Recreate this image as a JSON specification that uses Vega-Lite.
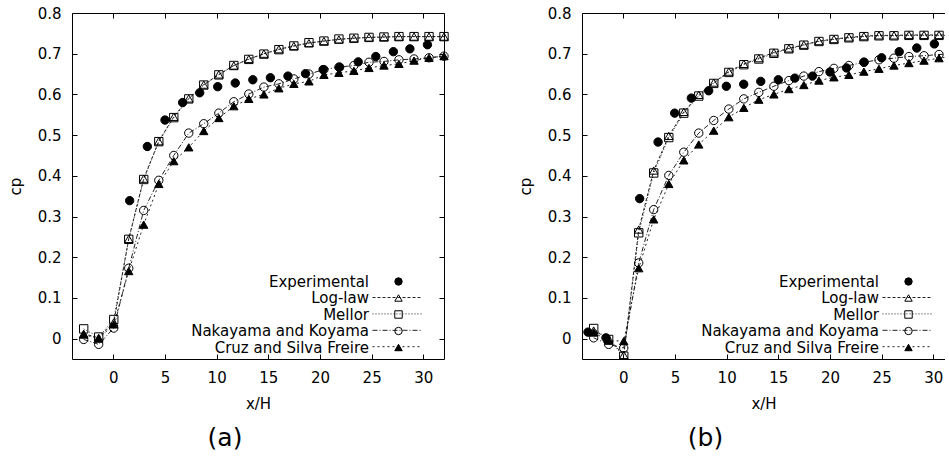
{
  "$schema": "https://vega.github.io/schema/vega-lite/v6.json",
  "background": "white",
  "padding": {"left": 8, "top": 6, "right": 0, "bottom": 0},
  "autosize": {"type": "pad"},
  "config": {
    "font": "DejaVu Sans",
    "view": {"stroke": null},
    "axis": {"labelFont": "DejaVu Sans", "labelFontSize": 15, "labelColor": "black", "titleFont": "DejaVu Sans", "titleFontSize": 15, "titleFontWeight": "normal", "titleColor": "black", "domainColor": "black", "tickColor": "black", "tickSize": -5, "labelPadding": 16, "grid": false, "domainWidth": 1, "tickWidth": 1},
    "legend": {"labelFont": "DejaVu Sans", "labelFontSize": 15, "labelColor": "black", "labelLimit": 0}
  },
  "datasets": {
    "a": [
      {"series": "Experimental", "x": 1.58, "cp": 0.339}, {"series": "Experimental", "x": 3.29, "cp": 0.472}, {"series": "Experimental", "x": 5.0, "cp": 0.537}, {"series": "Experimental", "x": 6.71, "cp": 0.58}, {"series": "Experimental", "x": 8.36, "cp": 0.604}, {"series": "Experimental", "x": 10.1, "cp": 0.619}, {"series": "Experimental", "x": 11.8, "cp": 0.628}, {"series": "Experimental", "x": 13.5, "cp": 0.636}, {"series": "Experimental", "x": 15.2, "cp": 0.641}, {"series": "Experimental", "x": 16.9, "cp": 0.645}, {"series": "Experimental", "x": 18.6, "cp": 0.651}, {"series": "Experimental", "x": 20.3, "cp": 0.661}, {"series": "Experimental", "x": 21.9, "cp": 0.667}, {"series": "Experimental", "x": 23.7, "cp": 0.68}, {"series": "Experimental", "x": 25.4, "cp": 0.693}, {"series": "Experimental", "x": 27.1, "cp": 0.705}, {"series": "Experimental", "x": 28.7, "cp": 0.712}, {"series": "Experimental", "x": 30.4, "cp": 0.722},
      {"series": "Log-law", "x": -2.87, "cp": 0.012}, {"series": "Log-law", "x": -1.42, "cp": 0.002}, {"series": "Log-law", "x": 0.04, "cp": 0.04}, {"series": "Log-law", "x": 1.49, "cp": 0.245}, {"series": "Log-law", "x": 2.94, "cp": 0.393}, {"series": "Log-law", "x": 4.4, "cp": 0.485}, {"series": "Log-law", "x": 5.85, "cp": 0.545}, {"series": "Log-law", "x": 7.3, "cp": 0.59}, {"series": "Log-law", "x": 8.75, "cp": 0.624}, {"series": "Log-law", "x": 10.21, "cp": 0.649}, {"series": "Log-law", "x": 11.66, "cp": 0.671}, {"series": "Log-law", "x": 13.11, "cp": 0.687}, {"series": "Log-law", "x": 14.57, "cp": 0.7}, {"series": "Log-law", "x": 16.02, "cp": 0.711}, {"series": "Log-law", "x": 17.47, "cp": 0.719}, {"series": "Log-law", "x": 18.93, "cp": 0.726}, {"series": "Log-law", "x": 20.38, "cp": 0.731}, {"series": "Log-law", "x": 21.83, "cp": 0.735}, {"series": "Log-law", "x": 23.28, "cp": 0.738}, {"series": "Log-law", "x": 24.74, "cp": 0.74}, {"series": "Log-law", "x": 26.19, "cp": 0.741}, {"series": "Log-law", "x": 27.64, "cp": 0.742}, {"series": "Log-law", "x": 29.1, "cp": 0.742}, {"series": "Log-law", "x": 30.55, "cp": 0.742}, {"series": "Log-law", "x": 32.0, "cp": 0.742},
      {"series": "Mellor", "x": -2.87, "cp": 0.024}, {"series": "Mellor", "x": -1.42, "cp": 0.004}, {"series": "Mellor", "x": 0.04, "cp": 0.047}, {"series": "Mellor", "x": 1.49, "cp": 0.244}, {"series": "Mellor", "x": 2.94, "cp": 0.391}, {"series": "Mellor", "x": 4.4, "cp": 0.484}, {"series": "Mellor", "x": 5.85, "cp": 0.543}, {"series": "Mellor", "x": 7.3, "cp": 0.589}, {"series": "Mellor", "x": 8.75, "cp": 0.623}, {"series": "Mellor", "x": 10.21, "cp": 0.648}, {"series": "Mellor", "x": 11.66, "cp": 0.671}, {"series": "Mellor", "x": 13.11, "cp": 0.686}, {"series": "Mellor", "x": 14.57, "cp": 0.699}, {"series": "Mellor", "x": 16.02, "cp": 0.71}, {"series": "Mellor", "x": 17.47, "cp": 0.719}, {"series": "Mellor", "x": 18.93, "cp": 0.727}, {"series": "Mellor", "x": 20.38, "cp": 0.731}, {"series": "Mellor", "x": 21.83, "cp": 0.736}, {"series": "Mellor", "x": 23.28, "cp": 0.738}, {"series": "Mellor", "x": 24.74, "cp": 0.74}, {"series": "Mellor", "x": 26.19, "cp": 0.741}, {"series": "Mellor", "x": 27.64, "cp": 0.742}, {"series": "Mellor", "x": 29.1, "cp": 0.742}, {"series": "Mellor", "x": 30.55, "cp": 0.742}, {"series": "Mellor", "x": 32.0, "cp": 0.742},
      {"series": "Nakayama and Koyama", "x": -2.87, "cp": -0.002}, {"series": "Nakayama and Koyama", "x": -1.42, "cp": -0.014}, {"series": "Nakayama and Koyama", "x": 0.04, "cp": 0.026}, {"series": "Nakayama and Koyama", "x": 1.49, "cp": 0.173}, {"series": "Nakayama and Koyama", "x": 2.94, "cp": 0.315}, {"series": "Nakayama and Koyama", "x": 4.4, "cp": 0.389}, {"series": "Nakayama and Koyama", "x": 5.85, "cp": 0.45}, {"series": "Nakayama and Koyama", "x": 7.3, "cp": 0.505}, {"series": "Nakayama and Koyama", "x": 8.75, "cp": 0.528}, {"series": "Nakayama and Koyama", "x": 10.21, "cp": 0.554}, {"series": "Nakayama and Koyama", "x": 11.66, "cp": 0.582}, {"series": "Nakayama and Koyama", "x": 13.11, "cp": 0.601}, {"series": "Nakayama and Koyama", "x": 14.57, "cp": 0.618}, {"series": "Nakayama and Koyama", "x": 16.02, "cp": 0.626}, {"series": "Nakayama and Koyama", "x": 17.47, "cp": 0.638}, {"series": "Nakayama and Koyama", "x": 18.93, "cp": 0.65}, {"series": "Nakayama and Koyama", "x": 20.38, "cp": 0.661}, {"series": "Nakayama and Koyama", "x": 21.83, "cp": 0.667}, {"series": "Nakayama and Koyama", "x": 23.28, "cp": 0.671}, {"series": "Nakayama and Koyama", "x": 24.74, "cp": 0.679}, {"series": "Nakayama and Koyama", "x": 26.19, "cp": 0.681}, {"series": "Nakayama and Koyama", "x": 27.64, "cp": 0.685}, {"series": "Nakayama and Koyama", "x": 29.1, "cp": 0.687}, {"series": "Nakayama and Koyama", "x": 30.55, "cp": 0.69}, {"series": "Nakayama and Koyama", "x": 32.0, "cp": 0.694},
      {"series": "Cruz and Silva Freire", "x": -2.87, "cp": 0.01}, {"series": "Cruz and Silva Freire", "x": -1.42, "cp": 0.0}, {"series": "Cruz and Silva Freire", "x": 0.04, "cp": 0.035}, {"series": "Cruz and Silva Freire", "x": 1.49, "cp": 0.166}, {"series": "Cruz and Silva Freire", "x": 2.94, "cp": 0.28}, {"series": "Cruz and Silva Freire", "x": 4.4, "cp": 0.38}, {"series": "Cruz and Silva Freire", "x": 5.85, "cp": 0.436}, {"series": "Cruz and Silva Freire", "x": 7.3, "cp": 0.47}, {"series": "Cruz and Silva Freire", "x": 8.75, "cp": 0.51}, {"series": "Cruz and Silva Freire", "x": 10.21, "cp": 0.542}, {"series": "Cruz and Silva Freire", "x": 11.66, "cp": 0.571}, {"series": "Cruz and Silva Freire", "x": 13.11, "cp": 0.589}, {"series": "Cruz and Silva Freire", "x": 14.57, "cp": 0.6}, {"series": "Cruz and Silva Freire", "x": 16.02, "cp": 0.615}, {"series": "Cruz and Silva Freire", "x": 17.47, "cp": 0.626}, {"series": "Cruz and Silva Freire", "x": 18.93, "cp": 0.632}, {"series": "Cruz and Silva Freire", "x": 20.38, "cp": 0.648}, {"series": "Cruz and Silva Freire", "x": 21.83, "cp": 0.653}, {"series": "Cruz and Silva Freire", "x": 23.28, "cp": 0.658}, {"series": "Cruz and Silva Freire", "x": 24.74, "cp": 0.665}, {"series": "Cruz and Silva Freire", "x": 26.19, "cp": 0.671}, {"series": "Cruz and Silva Freire", "x": 27.64, "cp": 0.675}, {"series": "Cruz and Silva Freire", "x": 29.1, "cp": 0.683}, {"series": "Cruz and Silva Freire", "x": 30.55, "cp": 0.69}, {"series": "Cruz and Silva Freire", "x": 32.0, "cp": 0.694}
    ],
    "b": [
      {"series": "Experimental", "x": -3.42, "cp": 0.016}, {"series": "Experimental", "x": -1.68, "cp": 0.002}, {"series": "Experimental", "x": 1.58, "cp": 0.344}, {"series": "Experimental", "x": 3.36, "cp": 0.483}, {"series": "Experimental", "x": 4.97, "cp": 0.554}, {"series": "Experimental", "x": 6.58, "cp": 0.591}, {"series": "Experimental", "x": 8.26, "cp": 0.609}, {"series": "Experimental", "x": 9.97, "cp": 0.62}, {"series": "Experimental", "x": 11.65, "cp": 0.625}, {"series": "Experimental", "x": 13.3, "cp": 0.632}, {"series": "Experimental", "x": 15.0, "cp": 0.636}, {"series": "Experimental", "x": 16.6, "cp": 0.64}, {"series": "Experimental", "x": 18.3, "cp": 0.645}, {"series": "Experimental", "x": 20.0, "cp": 0.655}, {"series": "Experimental", "x": 21.6, "cp": 0.665}, {"series": "Experimental", "x": 23.3, "cp": 0.679}, {"series": "Experimental", "x": 25.0, "cp": 0.69}, {"series": "Experimental", "x": 26.7, "cp": 0.705}, {"series": "Experimental", "x": 28.4, "cp": 0.714}, {"series": "Experimental", "x": 30.1, "cp": 0.724},
      {"series": "Log-law", "x": -2.87, "cp": 0.02}, {"series": "Log-law", "x": -1.42, "cp": 0.0}, {"series": "Log-law", "x": 0.04, "cp": -0.04}, {"series": "Log-law", "x": 1.49, "cp": 0.268}, {"series": "Log-law", "x": 2.94, "cp": 0.413}, {"series": "Log-law", "x": 4.4, "cp": 0.498}, {"series": "Log-law", "x": 5.85, "cp": 0.557}, {"series": "Log-law", "x": 7.3, "cp": 0.599}, {"series": "Log-law", "x": 8.75, "cp": 0.629}, {"series": "Log-law", "x": 10.21, "cp": 0.656}, {"series": "Log-law", "x": 11.66, "cp": 0.675}, {"series": "Log-law", "x": 13.11, "cp": 0.689}, {"series": "Log-law", "x": 14.57, "cp": 0.703}, {"series": "Log-law", "x": 16.02, "cp": 0.713}, {"series": "Log-law", "x": 17.47, "cp": 0.722}, {"series": "Log-law", "x": 18.93, "cp": 0.731}, {"series": "Log-law", "x": 20.38, "cp": 0.736}, {"series": "Log-law", "x": 21.83, "cp": 0.74}, {"series": "Log-law", "x": 23.28, "cp": 0.743}, {"series": "Log-law", "x": 24.74, "cp": 0.745}, {"series": "Log-law", "x": 26.19, "cp": 0.745}, {"series": "Log-law", "x": 27.64, "cp": 0.746}, {"series": "Log-law", "x": 29.1, "cp": 0.746}, {"series": "Log-law", "x": 30.55, "cp": 0.746}, {"series": "Log-law", "x": 32.0, "cp": 0.746},
      {"series": "Mellor", "x": -2.87, "cp": 0.025}, {"series": "Mellor", "x": -1.42, "cp": -0.002}, {"series": "Mellor", "x": 0.04, "cp": -0.043}, {"series": "Mellor", "x": 1.49, "cp": 0.26}, {"series": "Mellor", "x": 2.94, "cp": 0.407}, {"series": "Mellor", "x": 4.4, "cp": 0.494}, {"series": "Mellor", "x": 5.85, "cp": 0.554}, {"series": "Mellor", "x": 7.3, "cp": 0.596}, {"series": "Mellor", "x": 8.75, "cp": 0.627}, {"series": "Mellor", "x": 10.21, "cp": 0.654}, {"series": "Mellor", "x": 11.66, "cp": 0.673}, {"series": "Mellor", "x": 13.11, "cp": 0.687}, {"series": "Mellor", "x": 14.57, "cp": 0.701}, {"series": "Mellor", "x": 16.02, "cp": 0.712}, {"series": "Mellor", "x": 17.47, "cp": 0.721}, {"series": "Mellor", "x": 18.93, "cp": 0.73}, {"series": "Mellor", "x": 20.38, "cp": 0.735}, {"series": "Mellor", "x": 21.83, "cp": 0.739}, {"series": "Mellor", "x": 23.28, "cp": 0.742}, {"series": "Mellor", "x": 24.74, "cp": 0.744}, {"series": "Mellor", "x": 26.19, "cp": 0.744}, {"series": "Mellor", "x": 27.64, "cp": 0.745}, {"series": "Mellor", "x": 29.1, "cp": 0.745}, {"series": "Mellor", "x": 30.55, "cp": 0.745}, {"series": "Mellor", "x": 32.0, "cp": 0.745},
      {"series": "Nakayama and Koyama", "x": -2.87, "cp": 0.002}, {"series": "Nakayama and Koyama", "x": -1.42, "cp": -0.014}, {"series": "Nakayama and Koyama", "x": 0.04, "cp": -0.023}, {"series": "Nakayama and Koyama", "x": 1.49, "cp": 0.186}, {"series": "Nakayama and Koyama", "x": 2.94, "cp": 0.317}, {"series": "Nakayama and Koyama", "x": 4.4, "cp": 0.401}, {"series": "Nakayama and Koyama", "x": 5.85, "cp": 0.458}, {"series": "Nakayama and Koyama", "x": 7.3, "cp": 0.505}, {"series": "Nakayama and Koyama", "x": 8.75, "cp": 0.536}, {"series": "Nakayama and Koyama", "x": 10.21, "cp": 0.564}, {"series": "Nakayama and Koyama", "x": 11.66, "cp": 0.589}, {"series": "Nakayama and Koyama", "x": 13.11, "cp": 0.605}, {"series": "Nakayama and Koyama", "x": 14.57, "cp": 0.62}, {"series": "Nakayama and Koyama", "x": 16.02, "cp": 0.634}, {"series": "Nakayama and Koyama", "x": 17.47, "cp": 0.645}, {"series": "Nakayama and Koyama", "x": 18.93, "cp": 0.656}, {"series": "Nakayama and Koyama", "x": 20.38, "cp": 0.664}, {"series": "Nakayama and Koyama", "x": 21.83, "cp": 0.671}, {"series": "Nakayama and Koyama", "x": 23.28, "cp": 0.679}, {"series": "Nakayama and Koyama", "x": 24.74, "cp": 0.685}, {"series": "Nakayama and Koyama", "x": 26.19, "cp": 0.689}, {"series": "Nakayama and Koyama", "x": 27.64, "cp": 0.693}, {"series": "Nakayama and Koyama", "x": 29.1, "cp": 0.695}, {"series": "Nakayama and Koyama", "x": 30.55, "cp": 0.698}, {"series": "Nakayama and Koyama", "x": 32.0, "cp": 0.7},
      {"series": "Cruz and Silva Freire", "x": -2.87, "cp": 0.015}, {"series": "Cruz and Silva Freire", "x": -1.42, "cp": -0.005}, {"series": "Cruz and Silva Freire", "x": 0.04, "cp": -0.006}, {"series": "Cruz and Silva Freire", "x": 1.49, "cp": 0.173}, {"series": "Cruz and Silva Freire", "x": 2.94, "cp": 0.293}, {"series": "Cruz and Silva Freire", "x": 4.4, "cp": 0.38}, {"series": "Cruz and Silva Freire", "x": 5.85, "cp": 0.438}, {"series": "Cruz and Silva Freire", "x": 7.3, "cp": 0.477}, {"series": "Cruz and Silva Freire", "x": 8.75, "cp": 0.511}, {"series": "Cruz and Silva Freire", "x": 10.21, "cp": 0.544}, {"series": "Cruz and Silva Freire", "x": 11.66, "cp": 0.567}, {"series": "Cruz and Silva Freire", "x": 13.11, "cp": 0.587}, {"series": "Cruz and Silva Freire", "x": 14.57, "cp": 0.6}, {"series": "Cruz and Silva Freire", "x": 16.02, "cp": 0.613}, {"series": "Cruz and Silva Freire", "x": 17.47, "cp": 0.623}, {"series": "Cruz and Silva Freire", "x": 18.93, "cp": 0.634}, {"series": "Cruz and Silva Freire", "x": 20.38, "cp": 0.642}, {"series": "Cruz and Silva Freire", "x": 21.83, "cp": 0.648}, {"series": "Cruz and Silva Freire", "x": 23.28, "cp": 0.656}, {"series": "Cruz and Silva Freire", "x": 24.74, "cp": 0.663}, {"series": "Cruz and Silva Freire", "x": 26.19, "cp": 0.671}, {"series": "Cruz and Silva Freire", "x": 27.64, "cp": 0.677}, {"series": "Cruz and Silva Freire", "x": 29.1, "cp": 0.683}, {"series": "Cruz and Silva Freire", "x": 30.55, "cp": 0.689}, {"series": "Cruz and Silva Freire", "x": 32.0, "cp": 0.694}
    ]
  },
  "spacing": 138,
  "bounds": "flush",
  "resolve": {
    "scale": {"shape": "independent", "fill": "independent", "stroke": "independent", "strokeDash": "independent"},
    "legend": {"shape": "independent", "fill": "independent", "stroke": "independent", "strokeDash": "independent"}
  },
  "hconcat": [
    {
      "width": 372, "height": 346,
      "title": {"text": "(a)", "orient": "bottom", "fontSize": 25, "font": "DejaVu Sans", "fontWeight": "normal", "color": "black", "offset": 15, "dx": -33},
      "data": {"name": "a"},
      "resolve": {"axis": {"x": "independent", "y": "independent"}},
      "layer": [
        {
          "transform": [{"filter": "datum.series !== 'Experimental'"}],
          "mark": {"type": "line", "strokeWidth": 1, "color": "#222"},
          "encoding": {
            "x": {"field": "x", "type": "quantitative", "scale": {"domain": [-4, 32], "nice": false, "zero": false}, "axis": {"orient": "bottom", "values": [0, 5, 10, 15, 20, 25, 30], "format": "d", "title": "x/H", "titlePadding": 11}},
            "y": {"field": "cp", "type": "quantitative", "scale": {"domain": [-0.05, 0.8], "nice": false, "zero": false}, "axis": {"orient": "left", "values": [0, 0.1, 0.2, 0.3, 0.4, 0.5, 0.6, 0.7, 0.8], "format": ".1~f", "title": "cp", "titlePadding": 14}},
            "strokeDash": {"field": "series", "type": "nominal", "scale": {"domain": ["Log-law", "Mellor", "Nakayama and Koyama", "Cruz and Silva Freire"], "range": [[3, 2], [1, 2], [5, 2, 1, 2], [2, 3]]}, "legend": {"orient": "none", "legendX": 300, "legendY": 276.5, "title": null, "symbolType": "stroke", "symbolSize": 2500, "symbolStrokeColor": "#222", "symbolStrokeWidth": 1, "clipHeight": 16, "rowPadding": 0.4, "labelExpr": "''", "padding": 0}}
          }
        },
        {
          "mark": {"type": "point", "filled": true, "strokeWidth": 1, "size": 70, "opacity": 1},
          "encoding": {
            "x": {"field": "x", "type": "quantitative", "scale": {"domain": [-4, 32], "nice": false, "zero": false}, "axis": {"orient": "top", "values": [0, 5, 10, 15, 20, 25, 30], "labels": false, "title": null}},
            "y": {"field": "cp", "type": "quantitative", "scale": {"domain": [-0.05, 0.8], "nice": false, "zero": false}, "axis": {"orient": "right", "values": [0, 0.1, 0.2, 0.3, 0.4, 0.5, 0.6, 0.7, 0.8], "labels": false, "title": null}},
            "shape": {"field": "series", "type": "nominal", "scale": {"domain": ["Experimental", "Log-law", "Mellor", "Nakayama and Koyama", "Cruz and Silva Freire"], "range": ["circle", "triangle-up", "square", "circle", "triangle-up"]}, "legend": {"orient": "none", "legendX": 319, "legendY": 261, "title": null, "labelAlign": "right", "labelOffset": -37, "symbolSize": 55, "symbolStrokeWidth": 1, "rowPadding": 0.5, "padding": 0, "encode": {"symbols": {"update": {"size": {"value": 60}}}}}},
            "fill": {"field": "series", "type": "nominal", "scale": {"domain": ["Experimental", "Log-law", "Mellor", "Nakayama and Koyama", "Cruz and Silva Freire"], "range": ["black", "transparent", "transparent", "transparent", "black"]}, "legend": {"orient": "none", "legendX": 319, "legendY": 261, "title": null, "labelAlign": "right", "labelOffset": -37, "symbolSize": 55, "symbolStrokeWidth": 1, "rowPadding": 0.5, "padding": 0, "encode": {"symbols": {"update": {"size": {"value": 60}}}}}},
            "stroke": {"field": "series", "type": "nominal", "scale": {"domain": ["Experimental", "Log-law", "Mellor", "Nakayama and Koyama", "Cruz and Silva Freire"], "range": ["black", "black", "black", "black", "black"]}, "legend": {"orient": "none", "legendX": 319, "legendY": 261, "title": null, "labelAlign": "right", "labelOffset": -37, "symbolSize": 55, "symbolStrokeWidth": 1, "rowPadding": 0.5, "padding": 0, "encode": {"symbols": {"update": {"size": {"value": 60}}}}}}
          }
        }
      ]
    },
    {
      "width": 363, "height": 346,
      "title": {"text": "(b)", "orient": "bottom", "fontSize": 25, "font": "DejaVu Sans", "fontWeight": "normal", "color": "black", "offset": 15, "dx": -58},
      "data": {"name": "b"},
      "resolve": {"axis": {"x": "independent", "y": "independent"}},
      "layer": [
        {
          "transform": [{"filter": "datum.series !== 'Experimental'"}],
          "mark": {"type": "line", "strokeWidth": 1, "color": "#222", "clip": true},
          "encoding": {
            "x": {"field": "x", "type": "quantitative", "scale": {"domain": [-4, 31.13], "nice": false, "zero": false}, "axis": {"orient": "bottom", "values": [0, 5, 10, 15, 20, 25, 30], "format": "d", "title": "x/H", "titlePadding": 11}},
            "y": {"field": "cp", "type": "quantitative", "scale": {"domain": [-0.05, 0.8], "nice": false, "zero": false}, "axis": {"orient": "left", "values": [0, 0.1, 0.2, 0.3, 0.4, 0.5, 0.6, 0.7, 0.8], "format": ".1~f", "title": "cp", "titlePadding": 14}},
            "strokeDash": {"field": "series", "type": "nominal", "scale": {"domain": ["Log-law", "Mellor", "Nakayama and Koyama", "Cruz and Silva Freire"], "range": [[3, 2], [1, 2], [5, 2, 1, 2], [2, 3]]}, "legend": {"orient": "none", "legendX": 300, "legendY": 276.5, "title": null, "symbolType": "stroke", "symbolSize": 2500, "symbolStrokeColor": "#222", "symbolStrokeWidth": 1, "clipHeight": 16, "rowPadding": 0.4, "labelExpr": "''", "padding": 0}}
          }
        },
        {
          "mark": {"type": "point", "filled": true, "strokeWidth": 1, "size": 70, "opacity": 1, "clip": true},
          "encoding": {
            "x": {"field": "x", "type": "quantitative", "scale": {"domain": [-4, 31.13], "nice": false, "zero": false}, "axis": {"orient": "top", "values": [0, 5, 10, 15, 20, 25, 30], "labels": false, "title": null}},
            "y": {"field": "cp", "type": "quantitative", "scale": {"domain": [-0.05, 0.8], "nice": false, "zero": false}, "axis": null},
            "shape": {"field": "series", "type": "nominal", "scale": {"domain": ["Experimental", "Log-law", "Mellor", "Nakayama and Koyama", "Cruz and Silva Freire"], "range": ["circle", "triangle-up", "square", "circle", "triangle-up"]}, "legend": {"orient": "none", "legendX": 319, "legendY": 261, "title": null, "labelAlign": "right", "labelOffset": -37, "symbolSize": 55, "symbolStrokeWidth": 1, "rowPadding": 0.5, "padding": 0, "encode": {"symbols": {"update": {"size": {"value": 60}}}}}},
            "fill": {"field": "series", "type": "nominal", "scale": {"domain": ["Experimental", "Log-law", "Mellor", "Nakayama and Koyama", "Cruz and Silva Freire"], "range": ["black", "transparent", "transparent", "transparent", "black"]}, "legend": {"orient": "none", "legendX": 319, "legendY": 261, "title": null, "labelAlign": "right", "labelOffset": -37, "symbolSize": 55, "symbolStrokeWidth": 1, "rowPadding": 0.5, "padding": 0, "encode": {"symbols": {"update": {"size": {"value": 60}}}}}},
            "stroke": {"field": "series", "type": "nominal", "scale": {"domain": ["Experimental", "Log-law", "Mellor", "Nakayama and Koyama", "Cruz and Silva Freire"], "range": ["black", "black", "black", "black", "black"]}, "legend": {"orient": "none", "legendX": 319, "legendY": 261, "title": null, "labelAlign": "right", "labelOffset": -37, "symbolSize": 55, "symbolStrokeWidth": 1, "rowPadding": 0.5, "padding": 0, "encode": {"symbols": {"update": {"size": {"value": 60}}}}}}
          }
        }
      ]
    }
  ]
}
